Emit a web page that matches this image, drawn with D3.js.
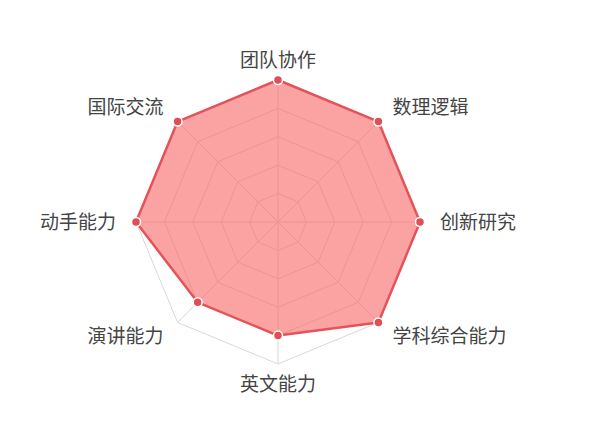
<!DOCTYPE html>
<html>
<head>
<meta charset="utf-8">
<script src="https://cdn.jsdelivr.net/npm/d3@7"></script>
<style>
  body { margin: 0; background: #fff; }
  text { font-family: "Noto Sans CJK SC", "Noto Sans", sans-serif; }
</style>
</head>
<body>
<div id="chart"></div>
<script>
// axes, clockwise from the top
const indicators = ["团队协作", "数理逻辑", "创新研究", "学科综合能力", "英文能力", "演讲能力", "动手能力", "国际交流"];
const scores = [5, 5, 5, 5, 4, 4, 5, 5];
const maxScore = 5;
const ringLevels = [1, 2, 3, 4, 5];

const width = 600, height = 444;
const cx = 278, cy = 222, radius = 142;

const svg = d3.select("#chart").append("svg")
  .attr("width", width)
  .attr("height", height);

const g = svg.append("g").attr("transform", `translate(${cx},${cy})`);

const r = d3.scaleLinear().domain([0, maxScore]).range([0, radius]);
const step = 2 * Math.PI / indicators.length;
const ang = (i) => i * step;

// position for a value on axis i (0 = up, clockwise)
function pos(i, v) {
  const a = ang(i);
  return [Math.sin(a) * r(v), -Math.cos(a) * r(v)];
}

// grid rings
g.selectAll(".ring")
  .data(ringLevels)
  .enter().append("polygon")
  .attr("class", "ring")
  .attr("points", d => indicators.map((_, i) => pos(i, d).join(",")).join(" "))
  .attr("fill", "none")
  .attr("stroke", "#d8d8d8")
  .attr("stroke-width", 1);

// spokes
g.selectAll(".spoke")
  .data(indicators)
  .enter().append("line")
  .attr("class", "spoke")
  .attr("x1", 0).attr("y1", 0)
  .attr("x2", (d, i) => pos(i, maxScore)[0])
  .attr("y2", (d, i) => pos(i, maxScore)[1])
  .attr("stroke", "#d8d8d8")
  .attr("stroke-width", 1);

// area
const line = d3.lineRadial()
  .angle((d, i) => ang(i))
  .radius(d => r(d))
  .curve(d3.curveLinearClosed);

g.append("path")
  .datum(scores)
  .attr("d", line)
  .attr("fill", "#f86a6a")
  .attr("fill-opacity", 0.62)
  .attr("stroke", "#e2545a")
  .attr("stroke-width", 2.5)
  .attr("stroke-linejoin", "round");

// points
g.selectAll(".dot")
  .data(scores)
  .enter().append("circle")
  .attr("class", "dot")
  .attr("cx", (d, i) => pos(i, d)[0])
  .attr("cy", (d, i) => pos(i, d)[1])
  .attr("r", 4.5)
  .attr("fill", "#e04f55")
  .attr("stroke", "#fff")
  .attr("stroke-width", 1.5);

// labels
const labelR = radius + 20;
g.selectAll(".label")
  .data(indicators)
  .enter().append("text")
  .attr("class", "label")
  .attr("x", (d, i) => Math.sin(ang(i)) * labelR)
  .attr("y", (d, i) => -Math.cos(ang(i)) * labelR)
  .attr("dy", "0.35em")
  .attr("text-anchor", (d, i) => {
    const s = Math.sin(ang(i));
    return Math.abs(s) < 1e-6 ? "middle" : (s > 0 ? "start" : "end");
  })
  .attr("font-size", 19)
  .attr("fill", "#444")
  .text(d => d);
</script>
</body>
</html>
